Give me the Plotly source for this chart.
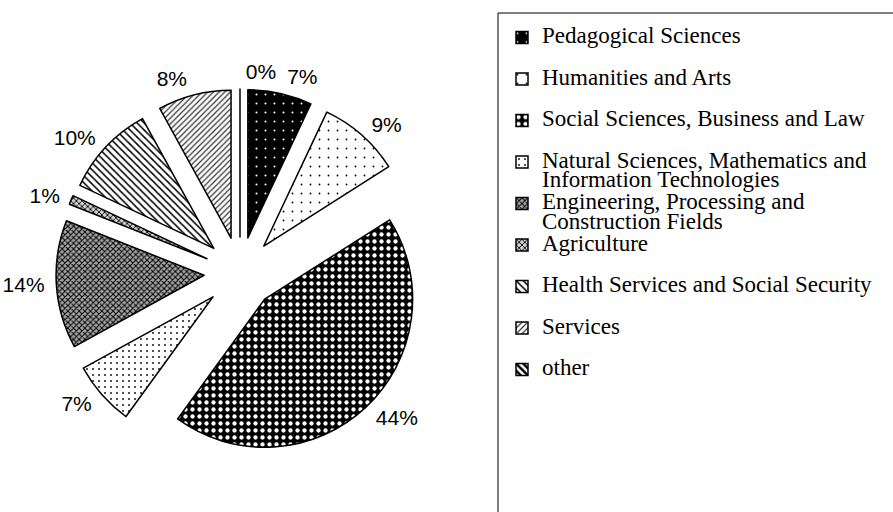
import plotly.graph_objects as go

# ---- data ----
categories = [
    "Pedagogical Sciences",
    "Humanities and Arts",
    "Social Sciences, Business and Law",
    "Natural Sciences, Mathematics and<br>Information Technologies",
    "Engineering, Processing and<br>Construction Fields",
    "Agriculture",
    "Health Services and Social Security",
    "Services",
    "other",
]
shares = [7, 9, 44, 7, 14, 1, 10, 8, 0]

# ---- styles ----
pat_shapes = [".", ".", ".", ".", "x", "x", "\\", "/", "\\"]
pat_fg = ["white", "black", "white", "black", "black", "black", "black", "#333", "black"]
pat_bg = ["black", "white", "black", "white", "#a8a8a8", "#d0d0d0", "white", "white", "white"]
pat_size = [9, 9, 7, 6, 4, 4, 5, 4, 5]
pat_solid = [0.04, 0.03, 0.3, 0.07, 0.45, 0.4, 0.3, 0.3, 0.5]

LEG_PX = 23
def legend_label(c):
    lines = c.split("<br>")
    if len(lines) == 1:
        lines.append(" ")
    return "<br>".join(f"<span style='font-size:{LEG_PX}px'>{l}</span>" for l in lines)

leg_labels = [legend_label(c) for c in categories]

# exploded pie (no text)
pie = go.Pie(
    labels=leg_labels,
    values=shares,
    sort=False,
    direction="clockwise",
    rotation=0,
    pull=[0.243] * len(shares),
    textinfo="none",
    marker=dict(
        colors=pat_bg,
        line=dict(color="black", width=1.5),
        pattern=dict(shape=pat_shapes, fgcolor=pat_fg, bgcolor=pat_bg,
                     size=pat_size, solidity=pat_solid, fillmode="replace"),
    ),
    domain=dict(x=[0.0627, 0.4748], y=[0.1074, 0.8262]),
    hoverinfo="label+percent",
)

ring_domain = dict(x=[0.0560, 0.4815], y=[0.0957, 0.8379])
label_font = dict(family="Liberation Sans, Arial", size=21, color="black")

def label_ring(show_zero):
    # transparent ring carrying the percentage labels outside the exploded slices
    tmpl = [("%{percent}" if ((v == 0) == show_zero) else "") for v in shares]
    return go.Pie(
        labels=leg_labels,
        values=shares,
        sort=False,
        direction="clockwise",
        rotation=0,
        showlegend=False,
        texttemplate=tmpl,
        textposition="outside",
        textfont=label_font,
        marker=dict(colors=["rgba(0,0,0,0)"] * len(shares), line=dict(width=0)),
        domain=ring_domain,
        hoverinfo="skip",
    )

fig = go.Figure([pie, label_ring(False), label_ring(True)])

fig.update_layout(
    width=893, height=512,
    margin=dict(l=0, r=0, t=0, b=0, autoexpand=False),
    paper_bgcolor="white",
    plot_bgcolor="white",
    showlegend=True,
    legend=dict(
        x=502 / 893, xanchor="left",
        y=0.958, yanchor="top",
        font=dict(family="Liberation Serif, Times New Roman", size=14.8, color="black"),
        valign="top",
        bgcolor="rgba(0,0,0,0)",
        borderwidth=0,
        traceorder="normal",
    ),
    shapes=[dict(type="rect", xref="paper", yref="paper",
                 x0=498 / 893, x1=1.05, y0=-0.05, y1=1 - 13 / 512,
                 line=dict(color="black", width=1), fillcolor="rgba(0,0,0,0)")],
)

fig.write_html("out.html", config={"displayModeBar": False},
               post_script="document.body.style.margin='0';")
